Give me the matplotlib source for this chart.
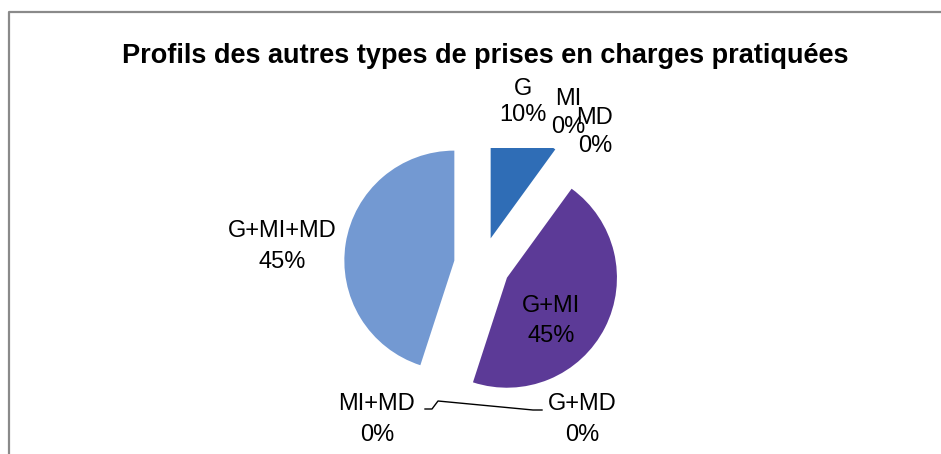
import matplotlib
matplotlib.use('Agg')
import matplotlib.pyplot as plt

# ---- data ----
categories = ['G', 'MI', 'MD', 'G+MI', 'G+MD', 'MI+MD', 'G+MI+MD']
values = [10, 0, 0, 45, 0, 0, 45]
pct_labels = ['10%', '0%', '0%', '45%', '0%', '0%', '45%']
title = 'Profils des autres types de prises en charges pratiquées'

colors = ['#2f6db6', '#8c2a2a', '#6a8f2f', '#5c3a97', '#2a8fa8', '#d9822b', '#7399d2']

W, H = 941, 454
fig = plt.figure(figsize=(W / 100, H / 100), dpi=100)

# pie axes, 1 data unit = 1 pixel (y up)
x0, x1, yt, yb = 300, 700, 148, 450
ax = fig.add_axes([x0 / W, (H - yb) / H, (x1 - x0) / W, (yb - yt) / H])
wedges, _ = ax.pie(values, colors=colors, startangle=90, counterclock=False,
                   explode=[28] * len(values), radius=110, center=(482, H - 265),
                   wedgeprops=dict(linewidth=0, antialiased=True), frame=False)
for w in wedges:
    w.set_clip_on(True)
    w.set_clip_path(ax.patch)
ax.set_aspect('auto')
ax.set_xlim(x0, x1)
ax.set_ylim(H - yb, H - yt)
ax.axis('off')

# overlay for border and texts (image pixel coordinates)
ov = fig.add_axes([0, 0, 1, 1])
ov.set_zorder(5)
ov.patch.set_alpha(0)
ov.set_xlim(0, W)
ov.set_ylim(H, 0)
ov.axis('off')
ov.plot([9, 9, W + 5], [H + 5, 12, 12], color='#8a8a8a', lw=1.6, solid_capstyle='butt')

# title
ov.text(485, 56, title, ha='center', va='center', fontsize=19.5,
        fontweight='bold', family='Liberation Sans', color='#000000')

# data labels
label_pos = {
    'G': (523, 89, 115),
    'MI': (568, 99, 127),
    'MD': (595, 118, 146),
    'G+MI': (551, 306, 336),
    'G+MD': (582, 404, 435),
    'MI+MD': (377, 404, 435),
    'G+MI+MD': (282, 231, 262),
}
for cat, pct in zip(categories, pct_labels):
    x, y1, y2 = label_pos[cat]
    ov.text(x, y1, cat, ha='center', va='center', fontsize=17,
            family='Liberation Sans', color='#000000')
    ov.text(x, y2, pct, ha='center', va='center', fontsize=17,
            family='Liberation Sans', color='#000000')

# leader line
ov.plot([425, 432, 438, 533, 542], [409, 409, 401, 410, 410], color='black', lw=1.0)

fig.savefig('out.png', dpi=100)
